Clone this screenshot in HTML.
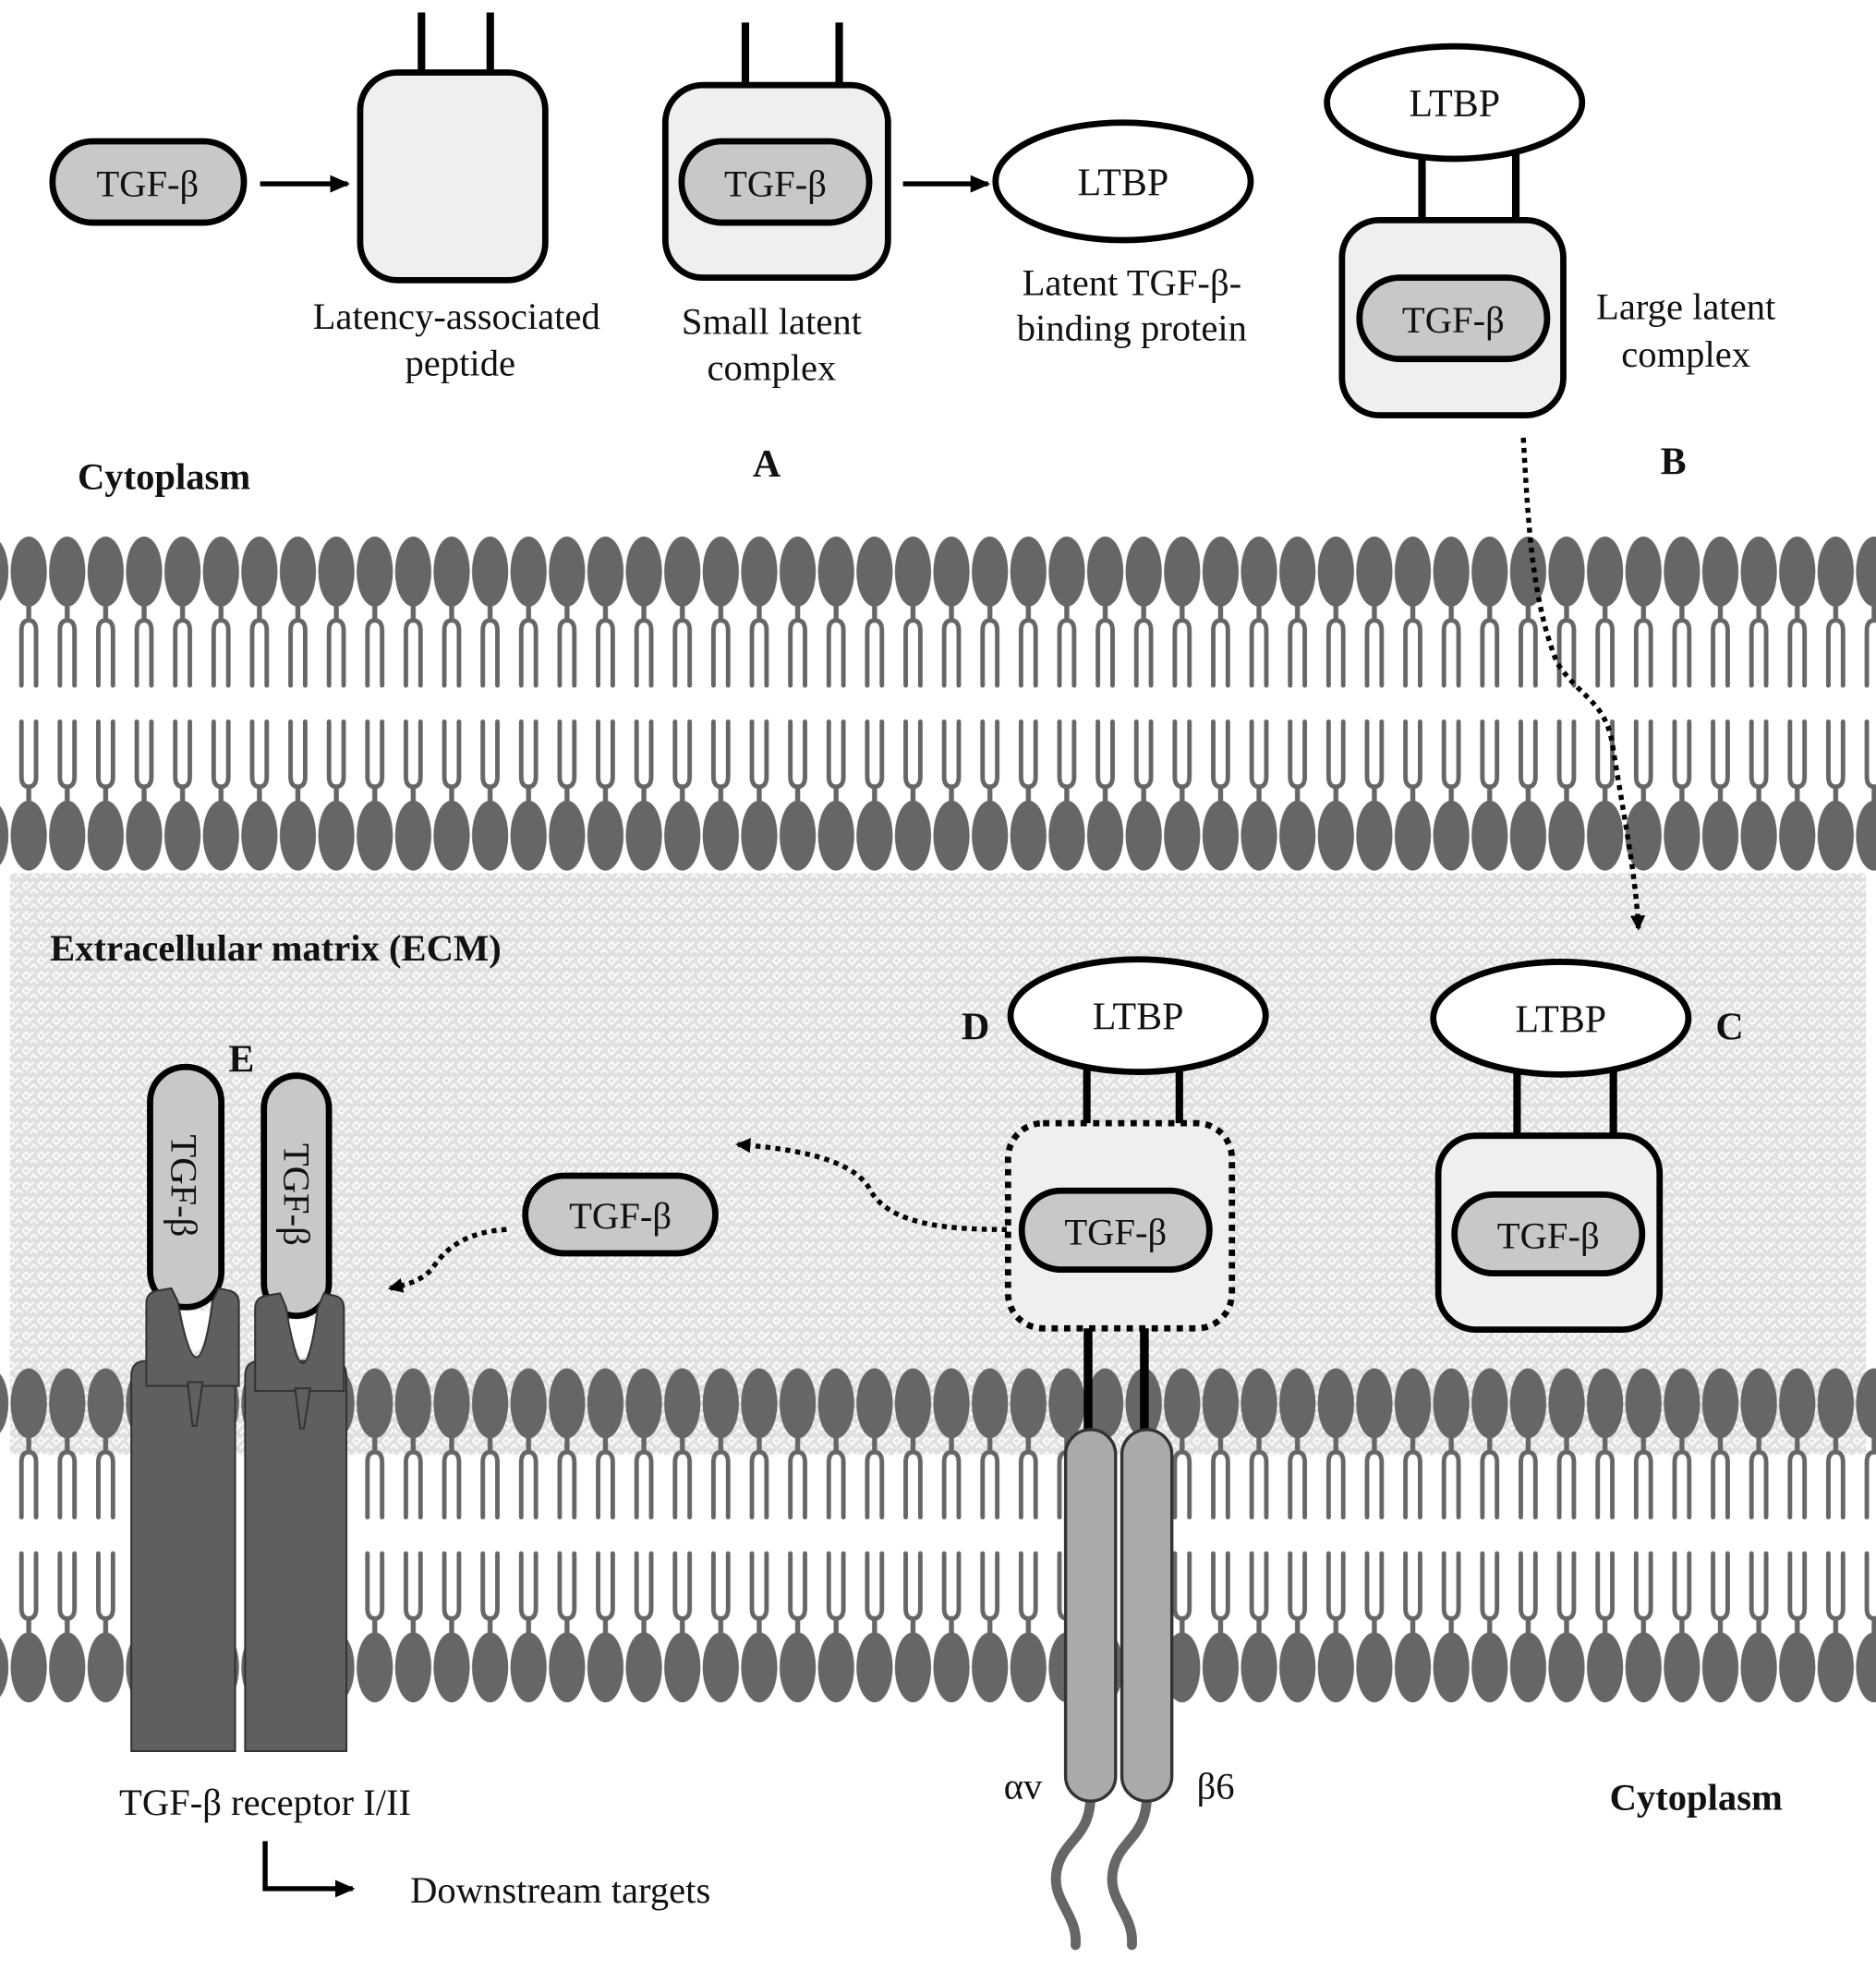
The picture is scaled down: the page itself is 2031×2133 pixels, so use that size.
<!DOCTYPE html>
<html><head><meta charset="utf-8"><style>
html,body{margin:0;padding:0;background:#fff}
svg{display:block}
text{font-family:"Liberation Serif",serif;fill:#111}
.b{font-weight:bold}
</style></head><body>
<svg width="2031" height="2133" viewBox="0 0 1500 1575" preserveAspectRatio="none" xmlns="http://www.w3.org/2000/svg">
<defs>
<pattern id="hatch" x="0" y="0" width="12" height="12" patternUnits="userSpaceOnUse">
<rect width="12" height="12" fill="#e0e0e0"/>
<path d="M0,6 L3,3 L6,6 M6,0 L9,3 L12,0 M6,12 L9,9 L12,12 M0,12 L3,9" stroke="#fbfbfb" stroke-width="1.6" fill="none"/>
</pattern>
<g id="unit">
<ellipse cx="15.35" cy="32" rx="14.5" ry="28" fill="#666"/>
<line x1="15.35" y1="58" x2="15.35" y2="72" stroke="#666" stroke-width="4"/>
<path d="M9.5,123 V79 Q9.5,71 15.35,71 Q21.2,71 21.2,79 V123" stroke="#666" stroke-width="3.6" fill="none" stroke-linecap="round"/>
<path d="M9.5,152 V196 Q9.5,204 15.35,204 Q21.2,204 21.2,196 V152" stroke="#666" stroke-width="3.6" fill="none" stroke-linecap="round"/>
<line x1="15.35" y1="203" x2="15.35" y2="217" stroke="#666" stroke-width="4"/>
<ellipse cx="15.35" cy="243" rx="14.5" ry="28" fill="#666"/>
</g>
<pattern id="memT" x="7.65" y="425" width="30.74" height="275" patternUnits="userSpaceOnUse"><use href="#unit"/></pattern>
<pattern id="memB" x="7.65" y="1090" width="30.74" height="275" patternUnits="userSpaceOnUse"><use href="#unit"/></pattern>
<marker id="ah" markerWidth="12" markerHeight="12" refX="10" refY="6" orient="auto" markerUnits="userSpaceOnUse" viewBox="0 0 12 12"><path d="M0,0 L12,6 L0,12 z" fill="#000"/></marker>
<marker id="ah2" markerWidth="16" markerHeight="14" refX="14" refY="7" orient="auto" markerUnits="userSpaceOnUse"><path d="M0,0 L16,7 L0,14 z" fill="#000"/></marker>
</defs>
<rect width="1500" height="1575" fill="#fff"/>
<rect x="8" y="698" width="1484" height="465" fill="url(#hatch)"/>
<rect x="0" y="425" width="1500" height="275" fill="url(#memT)"/>
<rect x="0" y="1090" width="1500" height="275" fill="url(#memB)"/>

<!-- Top row -->
<rect x="42" y="113" width="153" height="65" rx="32" fill="#c8c8c8" stroke="#000" stroke-width="5"/>
<text x="118" y="157" font-size="30" text-anchor="middle">TGF-β</text>
<line x1="208" y1="147" x2="278" y2="147" stroke="#000" stroke-width="4" marker-end="url(#ah2)"/>
<line x1="337" y1="10" x2="337" y2="60" stroke="#000" stroke-width="6"/>
<line x1="392" y1="10" x2="392" y2="60" stroke="#000" stroke-width="6"/>
<rect x="288" y="58" width="148" height="166" rx="30" fill="#efefef" stroke="#000" stroke-width="5"/>
<text x="365" y="263" font-size="30" text-anchor="middle">Latency-associated</text>
<text x="368" y="300" font-size="30" text-anchor="middle">peptide</text>

<line x1="596" y1="18" x2="596" y2="70" stroke="#000" stroke-width="6"/>
<line x1="671" y1="18" x2="671" y2="70" stroke="#000" stroke-width="6"/>
<rect x="532" y="68" width="178" height="154" rx="30" fill="#efefef" stroke="#000" stroke-width="5"/>
<rect x="545" y="113" width="150" height="65" rx="32" fill="#c8c8c8" stroke="#000" stroke-width="5"/>
<text x="620" y="157" font-size="30" text-anchor="middle">TGF-β</text>
<text x="617" y="267" font-size="30" text-anchor="middle">Small latent</text>
<text x="617" y="304" font-size="30" text-anchor="middle">complex</text>
<line x1="722" y1="147" x2="790" y2="147" stroke="#000" stroke-width="4" marker-end="url(#ah2)"/>
<ellipse cx="898" cy="145" rx="102" ry="47" fill="#fff" stroke="#000" stroke-width="5"/>
<text x="898" y="156" font-size="31" text-anchor="middle">LTBP</text>
<text x="905" y="236" font-size="30" text-anchor="middle">Latent TGF-β-</text>
<text x="905" y="272" font-size="30" text-anchor="middle">binding protein</text>

<line x1="1137" y1="120" x2="1137" y2="180" stroke="#000" stroke-width="6"/>
<line x1="1212" y1="120" x2="1212" y2="180" stroke="#000" stroke-width="6"/>
<ellipse cx="1163" cy="82" rx="102" ry="45" fill="#fff" stroke="#000" stroke-width="5"/>
<text x="1163" y="93" font-size="31" text-anchor="middle">LTBP</text>
<rect x="1073" y="176" width="177" height="156" rx="30" fill="#efefef" stroke="#000" stroke-width="5"/>
<rect x="1087" y="222" width="150" height="65" rx="32" fill="#c8c8c8" stroke="#000" stroke-width="5"/>
<text x="1162" y="266" font-size="30" text-anchor="middle">TGF-β</text>
<text x="1348" y="255" font-size="30" text-anchor="middle">Large latent</text>
<text x="1348" y="293" font-size="30" text-anchor="middle">complex</text>

<text x="62" y="391" font-size="30" class="b">Cytoplasm</text>
<text x="613" y="381" font-size="31" class="b" text-anchor="middle">A</text>
<text x="1338" y="379" font-size="31" class="b" text-anchor="middle">B</text>

<path d="M1218,350 C1222,420 1225,480 1245,530 C1265,560 1285,560 1290,600 C1298,650 1308,700 1310,742" stroke="#000" stroke-width="4" fill="none" stroke-dasharray="4,4" marker-end="url(#ah)"/>

<text x="40" y="768" font-size="30" class="b">Extracellular matrix (ECM)</text>

<!-- C -->
<line x1="1213" y1="850" x2="1213" y2="912" stroke="#000" stroke-width="6"/>
<line x1="1290" y1="850" x2="1290" y2="912" stroke="#000" stroke-width="6"/>
<ellipse cx="1248" cy="814" rx="102" ry="45" fill="#fff" stroke="#000" stroke-width="5"/>
<text x="1248" y="825" font-size="31" text-anchor="middle">LTBP</text>
<rect x="1150" y="908" width="177" height="155" rx="30" fill="#efefef" stroke="#000" stroke-width="5"/>
<rect x="1163" y="955" width="150" height="63" rx="31" fill="#c8c8c8" stroke="#000" stroke-width="5"/>
<text x="1238" y="998" font-size="30" text-anchor="middle">TGF-β</text>
<text x="1383" y="831" font-size="31" class="b" text-anchor="middle">C</text>

<!-- D -->
<line x1="869" y1="850" x2="869" y2="902" stroke="#000" stroke-width="6"/>
<line x1="943" y1="850" x2="943" y2="902" stroke="#000" stroke-width="6"/>
<ellipse cx="910" cy="812" rx="102" ry="45" fill="#fff" stroke="#000" stroke-width="5"/>
<text x="910" y="823" font-size="31" text-anchor="middle">LTBP</text>
<text x="780" y="831" font-size="31" class="b" text-anchor="middle">D</text>
<line x1="870" y1="1060" x2="870" y2="1148" stroke="#000" stroke-width="7"/>
<line x1="915" y1="1060" x2="915" y2="1148" stroke="#000" stroke-width="7"/>
<rect x="806" y="898" width="179" height="164" rx="28" fill="#efefef" stroke="#000" stroke-width="5" stroke-dasharray="5,5"/>
<rect x="817" y="952" width="150" height="63" rx="31" fill="#c8c8c8" stroke="#000" stroke-width="5"/>
<text x="892" y="995" font-size="30" text-anchor="middle">TGF-β</text>

<!-- integrin -->
<path d="M872,1435 C872,1470 850,1470 845,1495 C840,1520 862,1530 860,1555" stroke="#666" stroke-width="8" fill="none" stroke-linecap="round"/>
<path d="M917,1435 C917,1470 895,1470 890,1495 C885,1520 907,1530 905,1555" stroke="#666" stroke-width="8" fill="none" stroke-linecap="round"/>
<rect x="852" y="1143" width="40" height="297" rx="20" fill="#aaa" stroke="#333" stroke-width="2.5"/>
<rect x="897" y="1143" width="40" height="297" rx="20" fill="#aaa" stroke="#333" stroke-width="2.5"/>
<text x="818" y="1438" font-size="30" text-anchor="middle">αv</text>
<text x="972" y="1438" font-size="30" text-anchor="middle">β6</text>

<!-- free TGF -->
<rect x="420" y="940" width="152" height="62" rx="31" fill="#c8c8c8" stroke="#000" stroke-width="5"/>
<text x="496" y="982" font-size="30" text-anchor="middle">TGF-β</text>
<path d="M805,983 C760,983 710,980 695,950 C680,925 630,918 590,915" stroke="#000" stroke-width="4" fill="none" stroke-dasharray="4,4" marker-end="url(#ah)"/>
<path d="M405,983 C370,985 355,1000 345,1015 C335,1025 325,1027 312,1030" stroke="#000" stroke-width="4" fill="none" stroke-dasharray="4,4" marker-end="url(#ah)"/>

<!-- E receptors -->
<g fill="#5f5f5f" stroke="#333" stroke-width="1.5">
<path d="M105,1400 V1100 Q105,1088 117,1088 H176 Q188,1088 188,1100 V1400 Z"/>
<path d="M196,1400 V1100 Q196,1088 208,1088 H265 Q277,1088 277,1100 V1400 Z"/>
</g>
<rect x="120" y="853" width="57" height="192" rx="28" fill="#c8c8c8" stroke="#000" stroke-width="5"/>
<rect x="211" y="860" width="52" height="192" rx="26" fill="#c8c8c8" stroke="#000" stroke-width="5"/>
<g fill="#5f5f5f" stroke="#333" stroke-width="1.5">
<path d="M117,1108 V1042 Q117,1034 125,1032 L137,1030 L142,1040 Q150,1085 157,1085 Q164,1085 170,1040 L175,1030 L184,1032 Q191,1034 191,1042 V1108 Z"/>
<path d="M204,1112 V1046 Q204,1038 212,1036 L224,1034 L229,1046 Q236,1090 242,1090 Q248,1090 254,1046 L259,1034 L268,1036 Q275,1038 275,1046 V1112 Z"/>
<path d="M150,1105 L162,1105 L157,1140 L154,1140 Z"/>
<path d="M236,1110 L248,1110 L243,1142 L240,1142 Z"/>
</g>
<path d="M145,1048 Q151,1082 157,1080 Q163,1082 168,1048 Z" fill="#fff"/>
<path d="M231,1055 Q237,1087 242,1085 Q247,1087 252,1055 Z" fill="#fff"/>
<text transform="translate(137,948) rotate(90)" font-size="30" text-anchor="middle">TGF-β</text>
<text transform="translate(227,955) rotate(90)" font-size="30" text-anchor="middle">TGF-β</text>
<text x="193" y="857" font-size="31" class="b" text-anchor="middle">E</text>

<text x="212" y="1451" font-size="30" text-anchor="middle">TGF-β receptor I/II</text>
<path d="M212,1472 V1510 H282" stroke="#000" stroke-width="4" fill="none" marker-end="url(#ah2)"/>
<text x="328" y="1521" font-size="30">Downstream targets</text>
<text x="1287" y="1447" font-size="30" class="b">Cytoplasm</text>
</svg>
</body></html>
